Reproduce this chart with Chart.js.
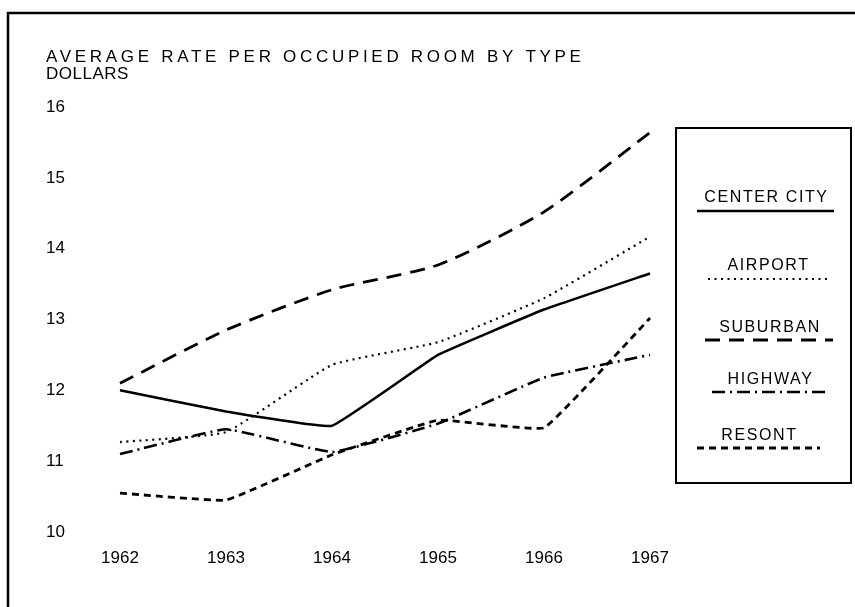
<!DOCTYPE html>
<html>
<head>
<meta charset="utf-8">
<script src="https://cdn.jsdelivr.net/npm/chart.js@4"></script>
<style>
    html, body { margin: 0; padding: 0; background: #fff; }
    #wrap { width: 855px; height: 607px; position: relative; }
</style>
</head>
<body>
<div id="wrap"><canvas id="rateChart" width="855" height="607"></canvas></div>
<script>
/* ===== data ===== */
const years = ["1962", "1963", "1964", "1965", "1966", "1967"];
const yTicks = [10, 11, 12, 13, 14, 15, 16];

const centerCity = [12.0, 11.7, 11.5, 12.5, 13.14, 13.65];
const airport    = [11.27, 11.41, 12.36, 12.68, 13.3, 14.17];
const suburban   = [12.1, 12.85, 13.42, 13.77, 14.52, 15.64];
const highway    = [11.1, 11.45, 11.13, 11.53, 12.18, 12.5];
const resort     = [10.55, 10.45, 11.09, 11.58, 11.47, 13.02];

const seriesNames = ["CENTER CITY", "AIRPORT", "SUBURBAN", "HIGHWAY", "RESONT"];

const titleLines = ["AVERAGE RATE PER OCCUPIED ROOM BY TYPE", "DOLLARS"];

const FONT = "'Liberation Sans', Arial, sans-serif";

// legend layout (text centre y, underline y, underline x range)
const legendSlots = [
    { ty: 198, uy: 211, x1: 697, x2: 834 },
    { ty: 266, uy: 279, x1: 708, x2: 827 },
    { ty: 328, uy: 340, x1: 705, x2: 833 },
    { ty: 380, uy: 392, x1: 712, x2: 827 },
    { ty: 436, uy: 448, x1: 697, x2: 820 }
];

function spacedText(ctx, text, x, y, spacing) {
    if ("letterSpacing" in ctx) {
        ctx.letterSpacing = spacing + "px";
        ctx.fillText(text, x, y);
        ctx.letterSpacing = "0px";
    } else {
        ctx.fillText(text, x, y);
    }
}

/* frame, title and the boxed legend */
const decorPlugin = {
    id: "decor",
    afterDraw(chart) {
        const ctx = chart.ctx;
        ctx.save();

        // outer frame (runs off the right and bottom edges)
        ctx.strokeStyle = "#000";
        ctx.lineWidth = 2.5;
        ctx.setLineDash([]);
        ctx.beginPath();
        ctx.moveTo(8, 620);
        ctx.lineTo(8, 13);
        ctx.lineTo(870, 13);
        ctx.stroke();

        // title
        ctx.fillStyle = "#000";
        ctx.font = "17px " + FONT;
        ctx.textAlign = "left";
        ctx.textBaseline = "middle";
        spacedText(ctx, titleLines[0], 46, 57, 3.7);
        spacedText(ctx, titleLines[1], 46, 74, 0.5);

        // legend box
        ctx.lineWidth = 2;
        ctx.strokeRect(676, 128, 175, 355);

        ctx.textAlign = "center";
        chart.data.datasets.forEach((ds, i) => {
            const s = legendSlots[i];
            ctx.fillStyle = "#000";
            ctx.font = "16px " + FONT;
            spacedText(ctx, ds.label, (s.x1 + s.x2) / 2 + 1, s.ty, 1.6);

            ctx.strokeStyle = "#000";
            ctx.lineWidth = ds.borderWidth;
            ctx.setLineDash(ds.borderDash || []);
            ctx.beginPath();
            ctx.moveTo(s.x1, s.uy);
            ctx.lineTo(s.x2, s.uy);
            ctx.stroke();
        });
        ctx.restore();
    }
};

const ctx = document.getElementById("rateChart").getContext("2d");

const chart = new Chart(ctx, {
    type: "line",
    data: {
        labels: years,
        datasets: [
            { label: seriesNames[0], data: centerCity, borderDash: [],            borderWidth: 2.6, tension: 0.08 },
            { label: seriesNames[1], data: airport,    borderDash: [2, 4.5],      borderWidth: 2.2, tension: 0.12 },
            { label: seriesNames[2], data: suburban,   borderDash: [15, 9],       borderWidth: 2.8, tension: 0.22 },
            { label: seriesNames[3], data: highway,    borderDash: [13, 5, 2, 5], borderWidth: 2.6, tension: 0.1 },
            { label: seriesNames[4], data: resort,     borderDash: [7, 5],        borderWidth: 2.8, tension: 0.08 }
        ].map(d => ({
            ...d,
            borderColor: "#000",
            backgroundColor: "#000",
            pointRadius: 0,
            fill: false
        }))
    },
    options: {
        responsive: false,
        animation: false,
        layout: {
            padding: { left: 46, top: 107, right: 205, bottom: 0 }
        },
        plugins: {
            legend: { display: false },
            title: { display: false },
            tooltip: { enabled: false }
        },
        scales: {
            x: {
                offset: false,
                grid: { display: false, drawTicks: false },
                border: { display: false },
                ticks: {
                    color: "#000",
                    font: { family: FONT, size: 17 },
                    padding: 16,
                    maxRotation: 0,
                    autoSkip: false
                },
                afterFit: s => { s.height = 75; }
            },
            y: {
                min: 10,
                max: 16,
                grid: { display: false, drawTicks: false },
                border: { display: false },
                afterBuildTicks: s => { s.ticks = yTicks.map(v => ({ value: v })); },
                ticks: {
                    color: "#000",
                    font: { family: FONT, size: 17 },
                    crossAlign: "far"
                },
                afterFit: s => { s.width = 74; }
            }
        }
    },
    plugins: [decorPlugin]
});
</script>
</body>
</html>
